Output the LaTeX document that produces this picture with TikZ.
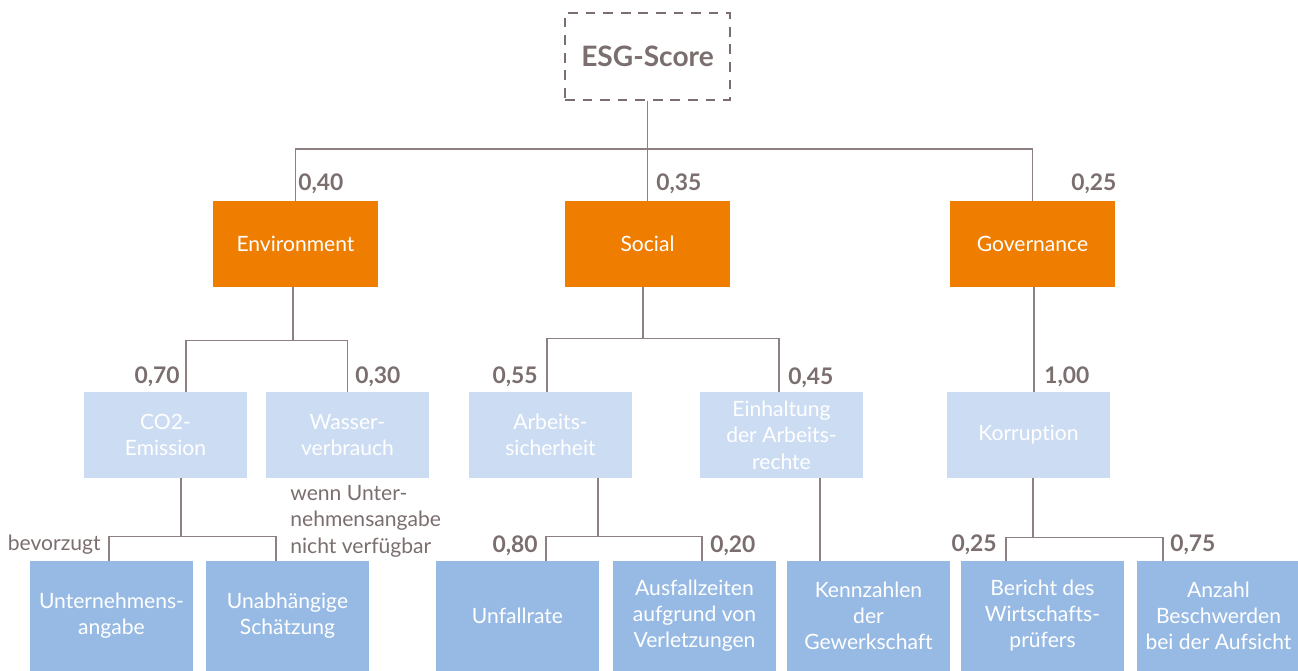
\documentclass[tikz,border=0pt]{standalone}
\usepackage{fontspec}
\setmainfont{Lato}[Ligatures={TeX,NoCommon}]
\usetikzlibrary{calc,positioning}
\definecolor{scoregray}{RGB}{123,110,110}
\definecolor{linegray}{RGB}{140,128,128}
\definecolor{pillarorange}{RGB}{239,125,0}
\definecolor{topicblue}{RGB}{204,221,243}
\definecolor{sourceblue}{RGB}{151,186,228}

\begin{document}
\begin{tikzpicture}[
    x=0.02cm, y=-0.02cm,
    score/.style={rectangle, draw=scoregray, line width=1.1pt, dash pattern=on 5.5pt off 4.5pt, minimum width=3.3cm, minimum height=1.74cm, inner sep=0pt, text=scoregray, font=\fontsize{16}{19}\selectfont\bfseries},
    pillar/.style={rectangle, fill=pillarorange, text=white, minimum width=3.3cm, minimum height=1.72cm, inner sep=0pt, align=center, font=\fontsize{12}{15}\selectfont},
    topic/.style={rectangle, fill=topicblue, text=white, minimum width=3.26cm, minimum height=1.72cm, inner sep=0pt, align=center, font=\fontsize{12}{15}\selectfont},
    source/.style={rectangle, fill=sourceblue, text=white, minimum width=3.26cm, minimum height=2.2cm, inner sep=0pt, align=center, font=\fontsize{12}{14.8}\selectfont},
    link/.style={draw=linegray, line width=0.9pt},
    weight/.style={inner sep=0pt, text=scoregray, font=\fontsize{13}{15}\selectfont\bfseries},
    note/.style={inner sep=0pt, text=scoregray, align=left, font=\fontsize{12}{15}\selectfont}
  ]
    \useasboundingbox (0,0) rectangle (1298,671);

    \node[score] (esg) at (647.5,56.5) {ESG-Score};

    \node[pillar] (env) at (295.5,244) {Environment};
    \node[pillar] (soc) at (647.5,244) {Social};
    \node[pillar] (gov) at (1032.5,244) {Governance};

    \node[topic] (co2) at (165.5,435) {CO2-\\Emission};
    \node[topic] (wat) at (347.5,435) {Wasser-\\verbrauch};
    \node[topic] (arb) at (550.5,435) {Arbeits-\\sicherheit};
    \node[topic] (ein) at (781.5,435) {Einhaltung\\der Arbeits-\\rechte};
    \node[topic] (kor) at (1028.5,435) {Korruption};

    \node[source] (unt) at (111.5,616) {Unternehmens-\\angabe};
    \node[source] (una) at (287.5,616) {Unabhängige\\Schätzung};
    \node[source] (unf) at (517.5,616) {Unfallrate};
    \node[source] (aus) at (694.5,616) {Ausfallzeiten\\aufgrund von\\Verletzungen};
    \node[source] (gew) at (868.5,616) {Kennzahlen\\der\\Gewerkschaft};
    \node[source] (ber) at (1042.5,616) {Bericht des\\Wirtschafts-\\prüfers};
    \node[source] (anz) at (1218.5,616) {Anzahl\\Beschwerden\\bei der Aufsicht};

    \draw[link] (esg.south) -- ++(0,48) -| (env.north);
    \draw[link] (esg.south) -- ++(0,48) -| (gov.north);
    \draw[link] (esg.south) -- (soc.north);

    \draw[link] ($(env.south)+(-2.5,0)$) -- ++(0,53) -| ($(co2.north)+(20.5,0)$);
    \draw[link] ($(env.south)+(-2.5,0)$) -- ++(0,53) -| (wat.north);
    \draw[link] ($(soc.south)+(-4.5,0)$) -- ++(0,51) -| ($(arb.north)+(-3.5,0)$);
    \draw[link] ($(soc.south)+(-4.5,0)$) -- ++(0,51) -| ($(ein.north)+(-2.5,0)$);
    \coordinate (gov-out) at ($(gov.south)+(1.5,0)$);
    \draw[link] (gov-out) -- (gov-out |- kor.north);

    \draw[link] ($(co2.south)+(15.5,0)$) -- ++(0,58) -| ($(unt.north)+(-2.5,0)$);
    \draw[link] ($(co2.south)+(15.5,0)$) -- ++(0,58) -| ($(una.north)+(-11.5,0)$);
    \draw[link] ($(arb.south)+(47.5,0)$) -- ++(0,58) -| ($(unf.north)+(28.5,0)$);
    \draw[link] ($(arb.south)+(47.5,0)$) -- ++(0,58) -| ($(aus.north)+(7.5,0)$);
    \coordinate (ein-out) at ($(ein.south)+(38.5,0)$);
    \draw[link] (ein-out) -- (ein-out |- gew.north);
    \draw[link] ($(kor.south)+(4.5,0)$) -- ++(0,59) -| ($(ber.north)+(-36.5,0)$);
    \draw[link] ($(kor.south)+(4.5,0)$) -- ++(0,59) -| ($(anz.north)+(-55.5,0)$);

    \node[weight, anchor=west] (w-env) at (298,184) {0,40};
    \node[weight, anchor=west] (w-soc) at (656,184) {0,35};
    \node[weight, anchor=west] (w-gov) at (1071,184) {0,25};
    \node[weight, anchor=east] (w-co2) at (180,377) {0,70};
    \node[weight, anchor=west] (w-wat) at (355,377) {0,30};
    \node[weight, anchor=east] (w-arb) at (538,377) {0,55};
    \node[weight, anchor=west] (w-ein) at (788,378) {0,45};
    \node[weight, anchor=west] (w-kor) at (1044,377) {1,00};
    \node[weight, anchor=east] (w-unf) at (538,546) {0,80};
    \node[weight, anchor=west] (w-aus) at (710,546) {0,20};
    \node[weight, anchor=east] (w-ber) at (997,545) {0,25};
    \node[weight, anchor=west] (w-anz) at (1170,545) {0,75};

    \node[note, anchor=east] (pref) at (101,545) {bevorzugt};
    \node[note, anchor=north west] (fallback) at (290,485) {wenn Unter-\\nehmensangabe\\nicht verfügbar};
  \end{tikzpicture}
\end{document}
